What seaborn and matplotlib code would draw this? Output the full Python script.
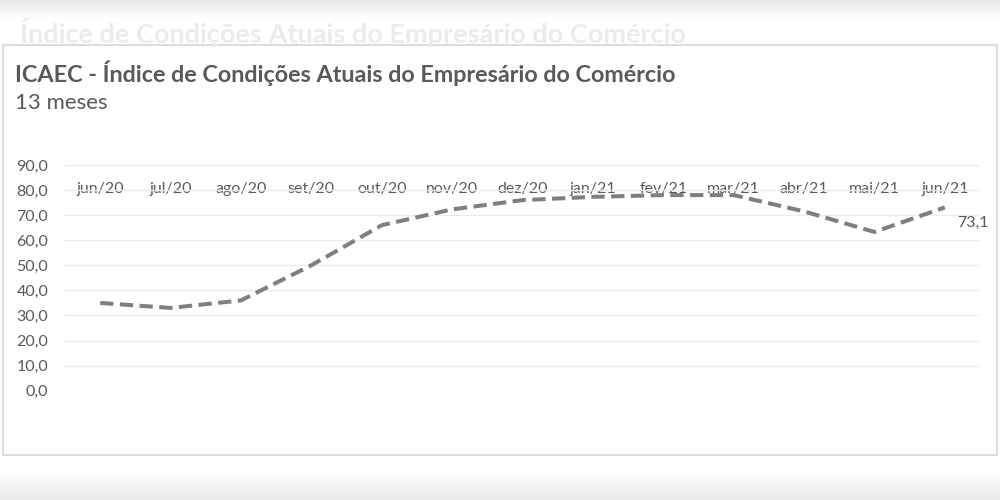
import numpy as np
import pandas as pd
import matplotlib
matplotlib.use("Agg")
import matplotlib.pyplot as plt
from matplotlib.patches import Rectangle
import seaborn as sns

# ---- data ----
months = ["jun/20", "jul/20", "ago/20", "set/20", "out/20", "nov/20", "dez/20",
          "jan/21", "fev/21", "mar/21", "abr/21", "mai/21", "jun/21"]
icaec = [35.0, 33.0, 36.0, 50.0, 66.0, 72.3, 76.0, 77.3, 78.0, 78.0, 71.5, 63.3, 73.1]
y_ticks = [0, 10, 20, 30, 40, 50, 60, 70, 80, 90]
y_labels = ["0,0", "10,0", "20,0", "30,0", "40,0", "50,0", "60,0", "70,0", "80,0", "90,0"]
last_label = "73,1"
title = "ICAEC - Índice de Condições Atuais do Empresário do Comércio"
subtitle = "13 meses"
page_title = "Índice de Condições Atuais do Empresário do Comércio"

df = pd.DataFrame({"pos": np.arange(len(months)), "mes": months, "valor": icaec})

sns.set_theme(style="white")
plt.rcParams["font.family"] = ["Lato", "DejaVu Sans"]

TXT = "#595959"
fig = plt.figure(figsize=(10, 5), dpi=100)
fig.patch.set_facecolor("white")

# soft grey gradient bands at top and bottom of the screenshot
top = np.linspace(0.91, 1.0, 20).reshape(-1, 1) * np.ones((1, 1000))
fig.figimage(np.dstack([top] * 3), xo=0, yo=480, origin="upper")
bot = np.linspace(1.0, 0.92, 30).reshape(-1, 1) * np.ones((1, 1000))
fig.figimage(np.dstack([bot] * 3), xo=0, yo=0, origin="upper")
fig.text(0.02, 0.935, page_title, color="#ebebeb", fontsize=19.5, fontweight="bold",
         va="center", ha="left")

# chart box
fig.add_artist(Rectangle((0.003, 0.09), 0.994, 0.82, transform=fig.transFigure,
                         facecolor="white", edgecolor="#d6d6d6", linewidth=1.2, zorder=0))

ax = fig.add_axes([0.065, 0.2186, 0.915, 0.4514])
ax.set_facecolor("none")

sns.lineplot(data=df, x="pos", y="valor", ax=ax, color="#7f7f7f", linewidth=2.9,
             linestyle=(0, (3.3, 1.6)), legend=False)

ax.set_xlim(-0.5, len(months) - 0.5)
ax.set_ylim(0, 90)
ax.set_yticks(y_ticks)
ax.set_yticklabels(y_labels)
ax.yaxis.grid(True, color="#ebebeb", linewidth=1.0)
ax.xaxis.grid(False)
for s in ax.spines.values():
    s.set_visible(False)
ax.tick_params(axis="y", length=0, pad=12, labelsize=11.5, labelcolor=TXT)

# category labels sit inside the plot near the top
ax.xaxis.tick_top()
ax.set_xticks(df["pos"])
ax.set_xticklabels(months)
ax.tick_params(axis="x", length=0, pad=-22, labelsize=11.5, labelcolor=TXT)
ax.set_xlabel("")
ax.set_ylabel("")

ax.annotate(last_label, xy=(df["pos"].iloc[-1], icaec[-1]), xytext=(9, -11),
            textcoords="offset points", ha="left", va="center",
            fontsize=11.5, color=TXT)

fig.text(0.015, 0.854, title, fontsize=16.8, fontweight="bold", color=TXT,
         ha="left", va="center")
fig.text(0.015, 0.794, subtitle, fontsize=16, color=TXT, ha="left", va="center")

fig.savefig("out.png", dpi=100)
